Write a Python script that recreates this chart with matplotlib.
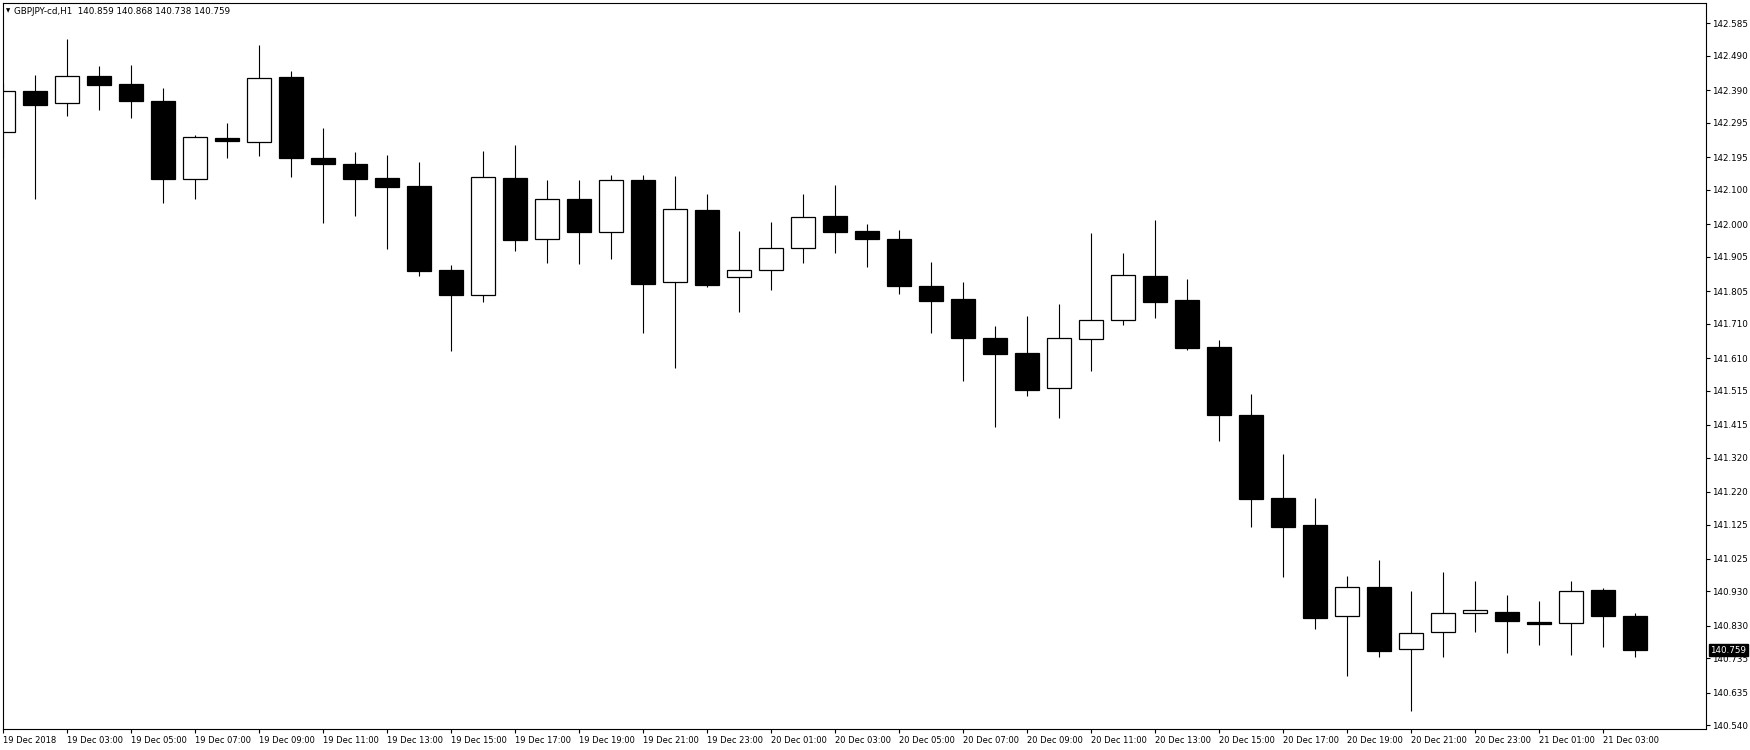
import matplotlib
matplotlib.use("Agg")
import matplotlib.pyplot as plt
import matplotlib.transforms as mtransforms

# GBPJPY H1 bars, 19 Dec 01:00 .. 21 Dec 04:00
opens = [142.268, 142.388, 142.352, 142.431, 142.408, 142.360, 142.132, 142.251, 142.238, 142.429,
         142.193, 142.175, 142.134, 142.111, 141.866, 141.793, 142.134, 141.956, 142.073, 141.976,
         142.129, 141.831, 142.041, 141.845, 141.866, 141.930, 142.024, 141.980, 141.957, 141.820,
         141.782, 141.668, 141.625, 141.522, 141.665, 141.720, 141.849, 141.779, 141.642, 141.444,
         141.201, 141.123, 140.858, 140.942, 140.762, 140.813, 140.866, 140.869, 140.840, 140.837,
         140.933, 140.859]
highs = [142.410, 142.434, 142.539, 142.461, 142.464, 142.397, 142.260, 142.295, 142.522, 142.446,
         142.280, 142.210, 142.201, 142.181, 141.881, 142.213, 142.231, 142.129, 142.129, 142.143,
         142.143, 142.140, 142.088, 141.980, 142.006, 142.088, 142.114, 142.000, 141.983, 141.890,
         141.831, 141.703, 141.732, 141.767, 141.974, 141.916, 142.012, 141.840, 141.662, 141.505,
         141.330, 141.201, 140.975, 141.022, 140.931, 140.987, 140.961, 140.920, 140.902, 140.961,
         140.940, 140.868]
lows = [142.192, 142.073, 142.316, 142.333, 142.310, 142.062, 142.073, 142.194, 142.199, 142.138,
        142.004, 142.025, 141.928, 141.850, 141.631, 141.774, 141.923, 141.888, 141.885, 141.899,
        141.684, 141.582, 141.818, 141.745, 141.809, 141.888, 141.917, 141.876, 141.797, 141.684,
        141.544, 141.410, 141.500, 141.436, 141.573, 141.707, 141.727, 141.634, 141.369, 141.119,
        140.973, 140.821, 140.684, 140.740, 140.583, 140.740, 140.813, 140.752, 140.774, 140.746,
        140.769, 140.738]
closes = [142.387, 142.348, 142.431, 142.406, 142.360, 142.132, 142.254, 142.241, 142.426, 142.194,
          142.176, 142.132, 142.109, 141.864, 141.794, 142.137, 141.955, 142.073, 141.978, 142.128,
          141.827, 142.043, 141.824, 141.866, 141.930, 142.020, 141.977, 141.957, 141.821, 141.777,
          141.669, 141.623, 141.518, 141.668, 141.720, 141.851, 141.774, 141.640, 141.445, 141.200,
          141.119, 140.854, 140.942, 140.757, 140.808, 140.866, 140.875, 140.845, 140.836, 140.930,
          140.859, 140.759]

time_labels = ["19 Dec 2018", "19 Dec 03:00", "19 Dec 05:00", "19 Dec 07:00", "19 Dec 09:00",
               "19 Dec 11:00", "19 Dec 13:00", "19 Dec 15:00", "19 Dec 17:00", "19 Dec 19:00",
               "19 Dec 21:00", "19 Dec 23:00", "20 Dec 01:00", "20 Dec 03:00", "20 Dec 05:00",
               "20 Dec 07:00", "20 Dec 09:00", "20 Dec 11:00", "20 Dec 13:00", "20 Dec 15:00",
               "20 Dec 17:00", "20 Dec 19:00", "20 Dec 21:00", "20 Dec 23:00", "21 Dec 01:00",
               "21 Dec 03:00"]
price_labels = ["142.585", "142.490", "142.390", "142.295", "142.195", "142.100", "142.000",
                "141.905", "141.805", "141.710", "141.610", "141.515", "141.415", "141.320",
                "141.220", "141.125", "141.025", "140.930", "140.830", "140.735", "140.635",
                "140.540"]
title = "GBPJPY-cd,H1  140.859 140.868 140.738 140.759"
last_price = 140.759

plt.rcParams['font.family'] = ['DejaVu Sans']
fs = 6.3

fig = plt.figure(figsize=(17.5, 7.5), dpi=100)
W, H = 1750.0, 750.0
ax = fig.add_axes([2.7 / W, 1 - 729.3 / H, (1706 - 2.7) / W, (729.3 - 2.7) / H])

n = len(opens)
xs = list(range(n))
ax.vlines(xs, lows, highs, color='black', linewidth=0.8, zorder=1)
for i in xs:
    o, c = opens[i], closes[i]
    up = c > o
    bottom = min(o, c)
    height = max(abs(c - o), 0.002)
    ax.bar(i, height, bottom=bottom, width=0.74,
           facecolor='white' if up else 'black', edgecolor='black',
           linewidth=0.9, zorder=2)

ax.set_xlim(-0.019, 53.21)
ax.set_ylim(140.5285, 142.645)

ax.set_xticks(xs[::2])
ax.set_xticklabels(time_labels, ha='left')
ax.tick_params(axis='x', direction='out', length=3, width=0.8, pad=1.5, labelsize=6.0)

ax.yaxis.tick_right()
ax.set_yticks([float(p) for p in price_labels])
ax.set_yticklabels(price_labels)
ax.tick_params(axis='y', direction='out', length=3, width=0.8, pad=1.5, labelsize=fs)

for s in ax.spines.values():
    s.set_linewidth(0.8)
    s.set_color('black')

# title in the upper left corner
fig.text(5.5 / W, 1 - 11 / H, "\u25bc", fontsize=4.0, va='center', ha='left')
fig.text(14 / W, 1 - 11 / H, title, fontsize=fs, va='center', ha='left')

# current price marker
trans = mtransforms.blended_transform_factory(ax.transAxes, ax.transData)
ax.text(1.0025, last_price, "140.759", transform=trans, color='white', fontsize=fs,
        va='center', ha='left', clip_on=False, zorder=10,
        bbox=dict(boxstyle='square,pad=0.18', facecolor='black', edgecolor='black'))

fig.savefig("out.png", dpi=100)
